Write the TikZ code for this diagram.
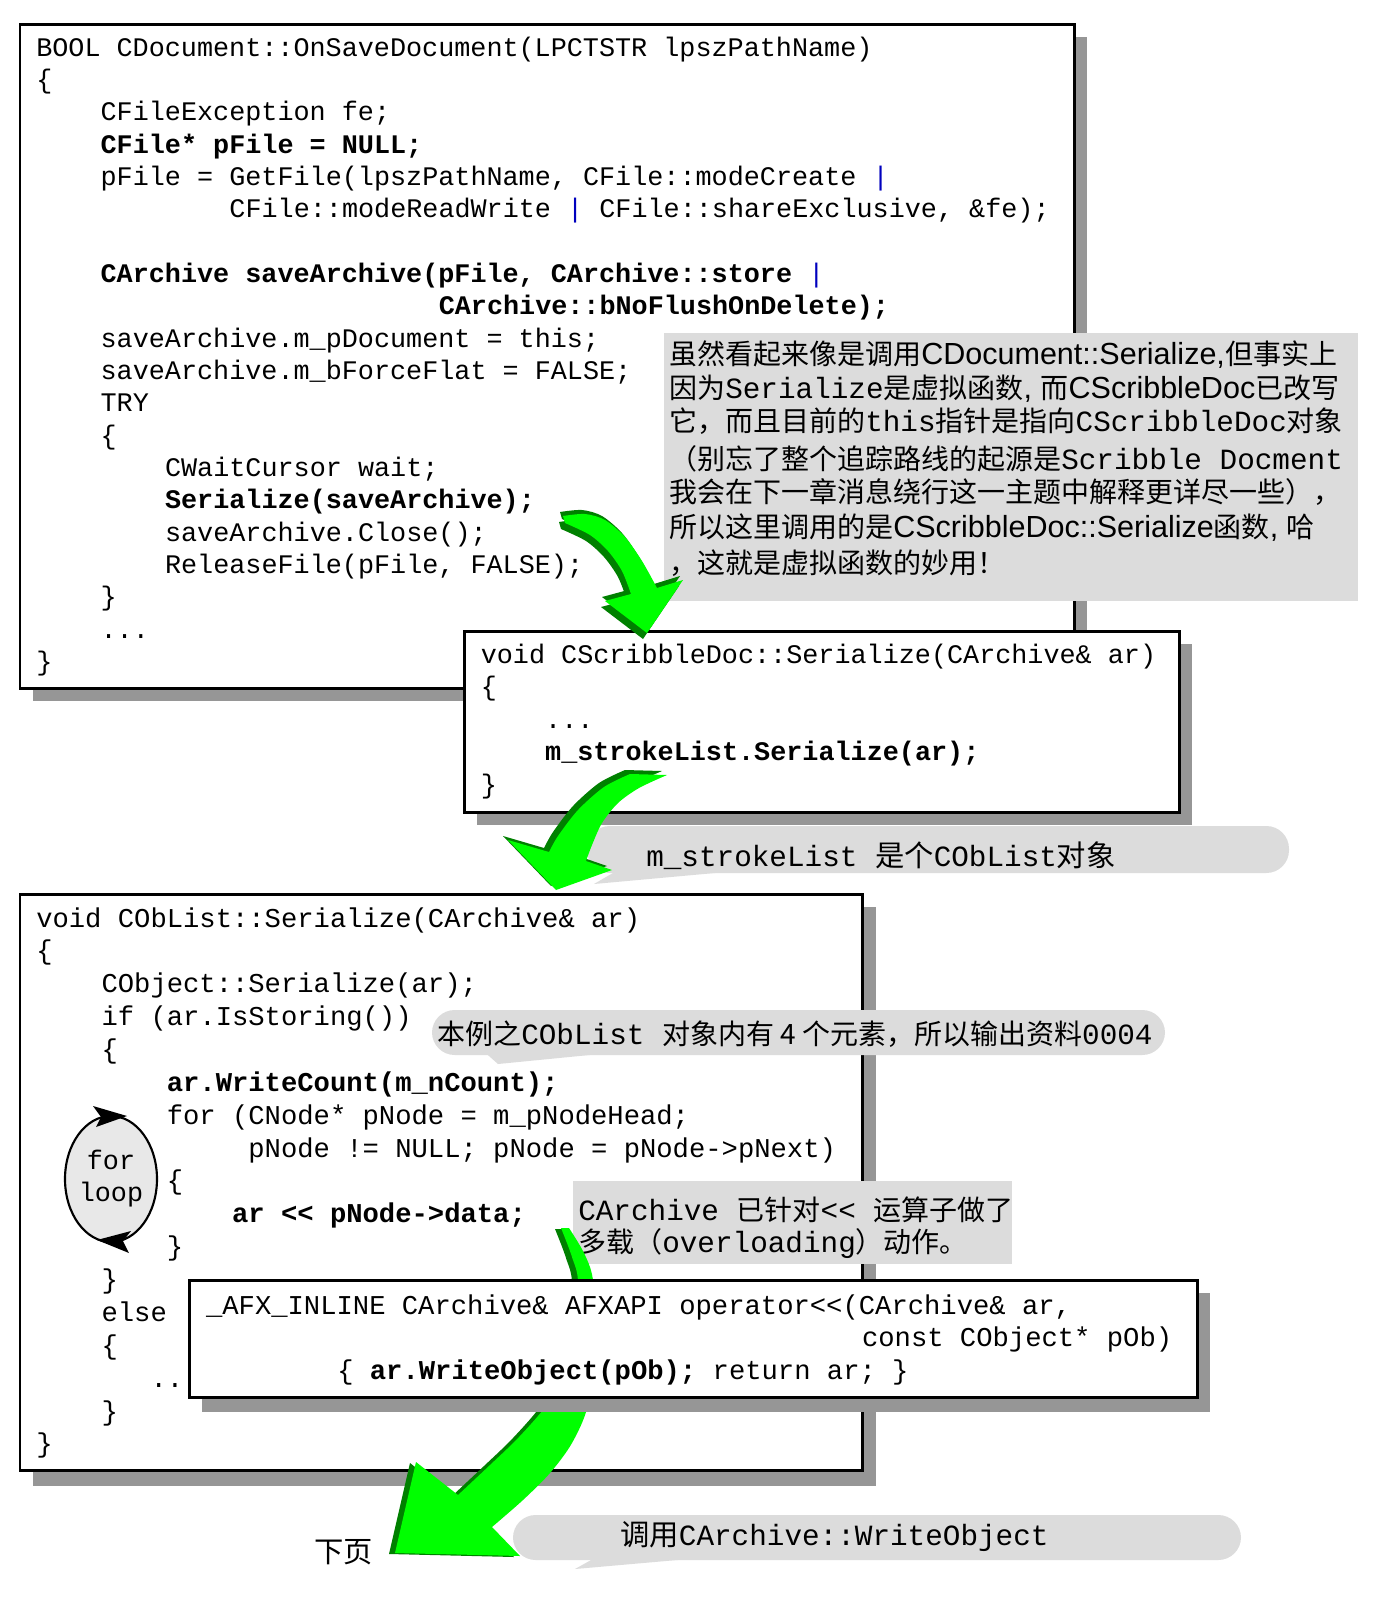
\documentclass[tikz,border=0pt]{standalone}
\usepackage{fontspec}
\usetikzlibrary{shapes.geometric}
\setmainfont{Liberation Serif}
\setsansfont{Liberation Sans}
\setmonofont{Liberation Mono}
\newfontfamily\cjk{Noto Sans CJK SC}
\definecolor{shadowgray}{RGB}{150,150,150}
\definecolor{notegray}{RGB}{220,220,220}
\definecolor{arrowgreen}{RGB}{0,255,0}
\definecolor{arrowdark}{RGB}{0,128,0}
\definecolor{pipeblue}{RGB}{0,0,190}
\definecolor{loopgray}{RGB}{232,232,232}
\newcommand\codefont{\ttfamily\fontsize{20.1}{24}\selectfont}
\newcommand\codefontB{\ttfamily\fontsize{20.4}{24}\selectfont}
\newcommand\myzh[1]{{\cjk\fontsize{21}{24}\selectfont #1}}
\newcommand\myzhL[1]{{\cjk\fontsize{22}{24}\selectfont #1}}
\newcommand\mysf[1]{{\sffamily\fontsize{22.9}{24}\selectfont #1}}
\newcommand\mytt[1]{{\ttfamily\fontsize{22}{24}\selectfont #1}}
\newcommand\pipe{\textcolor{pipeblue}{|}}
\frenchspacing
\newcommand\BoxA[4]{\node[code] (#1) at ({36+#2*16.1},{56.3+#3*32.33}) {#4};}
\newcommand\BoxB[4]{\node[code] (#1) at ({480.5+#2*16.1},{663.4+#3*32.4}) {#4};}
\newcommand\BoxC[4]{\node[codeB] (#1) at ({36+#2*16.32},{927+#3*32.87}) {#4};}
\newcommand\BoxD[4]{\node[codeB] (#1) at ({205.8+#2*16.4},{1314.3+#3*32.4}) {#4};}
\tikzset{
  code/.style={anchor=base west, inner sep=0pt, font=\codefont},
  codeB/.style={anchor=base west, inner sep=0pt, font=\codefontB},
  ntext/.style={anchor=base west, inner sep=0pt},
  boxframe/.style={draw=black, line width=2.2pt, fill=white, rectangle, inner sep=0pt, anchor=north west},
  notebox/.style={fill=notegray, rectangle, inner sep=0pt, anchor=north west},
  arrowApath/.style={insert path={plot[smooth] coordinates {(563,516) (585,514) (605,520) (625,537) (642,561) (657,588)} -- (683,580) -- (647,633) -- (605,601) -- plot[smooth] coordinates {(631,594) (622,571) (608,551) (590,535) (565,523)} -- cycle}},
  arrowBpath/.style={insert path={plot[smooth] coordinates {(630,774) (604,787) (578,810) (558,836) (549,852)} -- (508,840) -- (556,890) -- (612,870) -- plot[smooth] coordinates {(586,861) (592,845) (602,823) (618,803) (639,788) (667,775)} -- cycle}},
  arrowCpath/.style={insert path={plot[smooth] coordinates {(561,1228) (572,1257) (578,1285) (570,1360) (548,1403) (519,1437) (490,1465) (458,1495)} -- (416,1462) -- (395,1553) -- (520,1556) -- plot[smooth] coordinates {(492,1527) (523,1500) (550,1473) (572,1443) (588,1405) (596,1340) (593,1280) (584,1253) (569,1228)} -- cycle}},
}
\begin{document}
\begin{tikzpicture}[x=0.75pt,y=-0.75pt]
\useasboundingbox (0,0) rectangle (1384,1614);
\fill[white] (0,0) rectangle (1384,1614);

% ---------- Box 1 ----------
\fill[shadowgray] (32.5,36.6) rectangle (1087,701.4);
\node[boxframe, minimum width=790.9pt, minimum height=498.6pt] (box1) at (18.5,22.6) {};
\BoxA{a0}{0}{0}{BOOL CDocument::OnSaveDocument(LPCTSTR lpszPathName)}
\BoxA{a1}{0}{1}{\{}
\BoxA{a2}{4}{2}{CFileException fe;}
\BoxA{a3}{4}{3}{\textbf{CFile* pFile = NULL;}}
\BoxA{a4}{4}{4}{pFile = GetFile(lpszPathName, CFile::modeCreate \pipe}
\BoxA{a5}{12}{5}{CFile::modeReadWrite \pipe{} CFile::shareExclusive, \&fe);}
\BoxA{a7}{4}{7}{\textbf{CArchive saveArchive(pFile, CArchive::store} \pipe}
\BoxA{a8}{25}{8}{\textbf{CArchive::bNoFlushOnDelete);}}
\BoxA{a9}{4}{9}{saveArchive.m\_pDocument = this;}
\BoxA{a10}{4}{10}{saveArchive.m\_bForceFlat = FALSE;}
\BoxA{a11}{4}{11}{TRY}
\BoxA{a12}{4}{12}{\{}
\BoxA{a13}{8}{13}{CWaitCursor wait;}
\BoxA{a14}{8}{14}{\textbf{Serialize(saveArchive);}}
\BoxA{a15}{8}{15}{saveArchive.Close();}
\BoxA{a16}{8}{16}{ReleaseFile(pFile, FALSE);}
\BoxA{a17}{4}{17}{\}}
\BoxA{a18}{4}{18}{...}
\BoxA{a19}{0}{19}{\}}

% ---------- Note 1 ----------
\node[notebox, minimum width=520.5pt, minimum height=201pt] (note1) at (664,333) {};
\node[ntext] (n1l1) at (669,364) {\myzh{虽然看起来像是调用}\mysf{CDocument::Serialize,}\myzh{但事实上}};
\node[ntext] (n1l2) at (669,398) {\myzh{因为}\mytt{Serialize}\myzh{是虚拟函数}\mysf{, }\myzh{而}\mysf{CScribbleDoc}\myzh{已改写}};
\node[ntext] (n1l3) at (669,431) {\myzh{它，而且目前的}\mytt{this}\myzh{指针是指向}\mytt{CScribbleDoc}\myzh{对象}};
\node[ntext] (n1l4) at (669,469) {\myzh{（别忘了整个追踪路线的起源是}\mytt{Scribble Docment}};
\node[ntext] (n1l5) at (669,502) {\myzh{我会在下一章消息绕行这一主题中解释更详尽一些），}};
\node[ntext] (n1l6) at (669,537) {\myzh{所以这里调用的是}\mysf{CScribbleDoc::Serialize}\myzh{函数}\mysf{, }\myzh{哈}};
\node[ntext] (n1l7) at (669,573) {\myzh{，这就是虚拟函数的妙用！}};

% ---------- Box 2 ----------
\fill[shadowgray] (477,644) rectangle (1192,825);
\node[boxframe, minimum width=536.25pt, minimum height=135.75pt] (box2) at (463,630) {};
\BoxB{b0}{0}{0}{void CScribbleDoc::Serialize(CArchive\& ar)}
\BoxB{b1}{0}{1}{\{}
\BoxB{b2}{4}{2}{...}
\BoxB{b3}{4}{3}{\textbf{m\_strokeList.Serialize(ar);}}
\BoxB{b4}{0}{4}{\}}

% ---------- Arrow 1 ----------
\fill[arrowdark, shift={(-3,-4)}, arrowApath];
\fill[arrowdark, shift={(-4,6)}, arrowApath];
\fill[arrowgreen, arrowApath];

% ---------- Callout 2 ----------
\fill[notegray, rounded corners=17pt] (587,826) rectangle (1289,873);
\fill[notegray] (594,884) -- (625,866) -- (770,868) -- cycle;
\node[ntext] (c2) at (646,866) {\mytt{m\_strokeList }\myzhL{是个}\mytt{CObList}\myzhL{对象}};

% ---------- Box 3 ----------
\fill[shadowgray] (33,907) rectangle (876,1486);
\node[boxframe, minimum width=631.9pt, minimum height=432pt] (box3) at (18.5,893) {};
\BoxC{c0}{0}{0}{void CObList::Serialize(CArchive\& ar)}
\BoxC{c1}{0}{1}{\{}
\BoxC{c2l}{4}{2}{CObject::Serialize(ar);}
\BoxC{c3}{4}{3}{if (ar.IsStoring())}
\BoxC{c4}{4}{4}{\{}
\BoxC{c5}{8}{5}{\textbf{ar.WriteCount(m\_nCount);}}
\BoxC{c6}{8}{6}{for (CNode* pNode = m\_pNodeHead;}
\BoxC{c7}{13}{7}{pNode != NULL; pNode = pNode->pNext)}
\BoxC{c8}{8}{8}{\{}
\BoxC{c9}{12}{9}{\textbf{ar << pNode->data;}}
\BoxC{c10}{8}{10}{\}}
\BoxC{c11}{4}{11}{\}}
\BoxC{c12}{4}{12}{else}
\BoxC{c13}{4}{13}{\{}
\BoxC{c14}{7}{14}{...}
\BoxC{c15}{4}{15}{\}}
\BoxC{c16}{0}{16}{\}}

% for loop
\node[draw=black, line width=1.6pt, fill=loopgray, ellipse, minimum width=69pt, minimum height=94.5pt, inner sep=0pt, align=center, font=\codefont] (loop) at (111,1179) {for\\loop};
\fill[black] (127,1116) -- (93,1106) -- (101,1117) -- (96,1127) -- cycle;
\fill[black] (97,1240) -- (131,1231) -- (123,1241) -- (129,1253) -- cycle;

% ---------- Arrow 2 ----------
\fill[arrowdark, shift={(-5,-4)}, arrowBpath];
\fill[arrowgreen, arrowBpath];

% ---------- Callout 3 ----------
\fill[notegray, rounded corners=17pt] (432,1010) rectangle (1165,1055);
\fill[notegray] (498,1064) -- (480,1048) -- (620,1052) -- cycle;
\node[ntext] (c3text) at (437,1044) {\myzh{本例之}\mytt{CObList }\myzh{对象内有 4 个元素，所以输出资料}\mytt{0004}};

% ---------- Note 4 ----------
\node[notebox, minimum width=329.25pt, minimum height=62.25pt] (note4) at (573,1181) {};
\node[ntext] (n4l1) at (578,1220) {\mytt{CArchive }\myzh{已针对}\mytt{<< }\myzh{运算子做了}};
\node[ntext] (n4l2) at (578,1252) {\myzh{多载（}\mytt{overloading}\myzh{）动作。}};

% ---------- Arrow 3 ----------
\fill[arrowdark, shift={(-6,1)}, arrowCpath];
\fill[arrowgreen, arrowCpath];

% ---------- Box 4 ----------
\fill[shadowgray] (202,1293) rectangle (1210,1412);
\node[boxframe, minimum width=756pt, minimum height=87.75pt] (box4) at (188,1279) {};
\BoxD{d0}{0}{0}{\_AFX\_INLINE CArchive\& AFXAPI operator<<(CArchive\& ar,}
\BoxD{d1}{40}{1}{const CObject* pOb)}
\BoxD{d2}{8}{2}{\{ \textbf{ar.WriteObject(pOb);} return ar; \}}

% ---------- Callout 5 ----------
\fill[notegray, rounded corners=17pt] (513,1515) rectangle (1241,1560);
\fill[notegray] (575,1569) -- (600,1555) -- (700,1558) -- cycle;
\node[ntext] (c5) at (620,1545) {\myzhL{调用}\mytt{CArchive::WriteObject}};

\node[ntext] (nextpage) at (314,1562) {\myzhL{下页}};
\end{tikzpicture}
\end{document}
